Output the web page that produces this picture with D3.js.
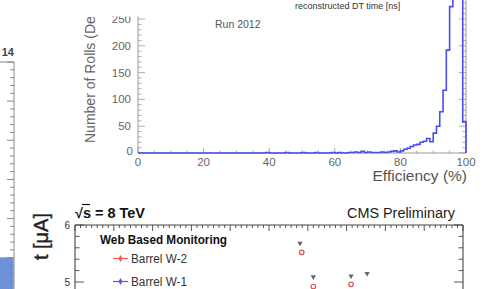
<!DOCTYPE html>
<html><head><meta charset="utf-8">
<script src="https://cdn.jsdelivr.net/npm/d3@7/dist/d3.min.js"></script>
<style>html,body{margin:0;padding:0;background:#fff;overflow:hidden}svg{display:block}text{font-family:"Liberation Sans",Arial,sans-serif}</style>
</head><body>
<script>
// ---- Efficiency histogram (bins of 1%, 0..100) ----
const effBinStarts = d3.range(0, 100);
const effCounts = [
  0,0,0,0,0,0,0,0,0,0,
  0,0,0,0,0,0,0,0,0,0,
  0,0,0,0,0,0,0,0,0,0,
  0,0,0,0,0,0,0,0,0,1,
  0,0,0,0,0,1,0,0,0,0,
  1,0,0,0,1,0,0,0,0,1,
  0,1,0,0,1,1,2,1,3,1,
  2,1,1,1,2,1,2,3,4,2,
  4,7,9,12,15,16,20,22,27,21,
  37,50,77,117,192,273,340,330,310,58
];
const effXTicks = [0,20,40,60,80,100];
const effYTicks = [0,50,100,150,200,250];

// ---- Bottom monitoring plot ----
const dayTicksMajor = [0,7,14,21,28,35,42,49,56,63,70];
const currentTicks = [5,6];
const redDays = [40.9, 43.0, 49.8];
const redValues = [5.52, 4.92, 4.96];
const triDays = [40.6, 43.0, 49.8, 52.7];
const triValues = [5.68, 5.09, 5.105, 5.15];
const legendLabels = ["Barrel W-2", "Barrel W-1"];
const legendColors = ["#ee5a5a", "#5a5ae6"];

const W = 500, H = 289;
const svg = d3.select("body").append("svg").attr("width", W).attr("height", H);

// ================= left strip =================
const yL = d3.scaleLinear([0, 29], [62, 289]);
svg.append("rect").attr("x", 0).attr("y", yL(24.95)).attr("width", 13.5).attr("height", H - yL(24.95)).attr("fill", "#6d90d6");
svg.append("line").attr("x1", 0).attr("x2", 14).attr("y1", 62).attr("y2", 62).attr("stroke", "#888").attr("stroke-width", 1);
svg.append("line").attr("x1", 14).attr("x2", 14).attr("y1", 62).attr("y2", H).attr("stroke", "#888").attr("stroke-width", 1);
svg.append("g").selectAll("line").data(d3.range(0, 29)).join("line")
  .attr("x1", 14).attr("x2", d => d % 5 === 0 ? 7 : 10)
  .attr("y1", d => yL(d)).attr("y2", d => yL(d)).attr("stroke", "#888");
svg.append("text").attr("x", 14).attr("y", 56).attr("text-anchor", "end")
  .attr("font-size", 11).attr("font-weight", "bold").attr("fill", "#444").text("14");
svg.append("text").attr("transform", "translate(48,213) rotate(-90)").attr("text-anchor", "end")
  .attr("font-size", 20).attr("fill", "#222").attr("stroke", "#222").attr("stroke-width", 0.4).text("t [μA]");

// ================= histogram =================
const xH = d3.scaleLinear([0, 100], [138, 466]);
const yH = d3.scaleLinear([0, 250], [153, 19]);
const gH = svg.append("g");
const axisCol = "#999", labCol = "#666";
gH.append("line").attr("x1", xH(0)).attr("x2", xH(0)).attr("y1", 0).attr("y2", yH(0)).attr("stroke", axisCol);
gH.append("line").attr("x1", xH(100)).attr("x2", xH(100)).attr("y1", 0).attr("y2", yH(0)).attr("stroke", axisCol);
gH.append("line").attr("x1", xH(0)).attr("x2", xH(100)).attr("y1", yH(0)).attr("y2", yH(0)).attr("stroke", axisCol);
const yMinor = d3.range(0, 300, 10);
gH.append("g").selectAll("line").data(yMinor).join("line")
  .attr("x1", xH(0)).attr("x2", d => xH(0) + (d % 50 === 0 ? 7 : 3.5))
  .attr("y1", d => yH(d)).attr("y2", d => yH(d)).attr("stroke", axisCol).attr("stroke-width", 0.8);
gH.append("g").selectAll("line").data(yMinor).join("line")
  .attr("x1", xH(100)).attr("x2", d => xH(100) - (d % 50 === 0 ? 7 : 3.5))
  .attr("y1", d => yH(d)).attr("y2", d => yH(d)).attr("stroke", axisCol).attr("stroke-width", 0.8);
gH.append("g").selectAll("line").data(d3.range(0, 101, 5)).join("line")
  .attr("x1", d => xH(d)).attr("x2", d => xH(d))
  .attr("y1", yH(0)).attr("y2", d => yH(0) - (d % 20 === 0 ? 5 : 2.5)).attr("stroke", axisCol).attr("stroke-width", 0.8);
gH.append("g").selectAll("text").data(effYTicks).join("text")
  .attr("x", d => d === 0 ? 133 : 131).attr("y", d => yH(d) + (d === 0 ? 2 : 4))
  .attr("text-anchor", "end").attr("font-size", 11.5).attr("fill", labCol).text(d => d);
gH.append("g").selectAll("text").data(effXTicks).join("text")
  .attr("x", d => xH(d)).attr("y", 165.5).attr("text-anchor", "middle")
  .attr("font-size", 11.5).attr("fill", labCol).text(d => d);
gH.append("text").attr("x", 467).attr("y", 181).attr("text-anchor", "end")
  .attr("font-size", 15.5).attr("fill", "#555").text("Efficiency (%)");
gH.append("text").attr("transform", "translate(95,143) rotate(-90)")
  .attr("font-size", 14).attr("fill", "#666").text("Number of Rolls (De");
const pts = [];
effBinStarts.forEach((b, i) => {
  pts.push([xH(b), yH(effCounts[i])]);
  pts.push([xH(b + 1), yH(effCounts[i])]);
});
pts.unshift([xH(0), yH(0)]);
pts.push([xH(100), yH(0)]);
gH.append("path").attr("d", d3.line()(pts)).attr("fill", "none")
  .attr("stroke", "#4b4bee").attr("stroke-width", 1.6);
svg.append("rect").attr("x", 60).attr("y", 0).attr("width", 388).attr("height", 16.5).attr("fill", "#fff");
svg.append("text").attr("x", 295).attr("y", 9).attr("font-size", 9).attr("fill", "#333").text("reconstructed DT time [ns]");
svg.append("text").attr("x", 215).attr("y", 27.5).attr("font-size", 10.5).attr("fill", "#555").text("Run 2012");

// ================= bottom monitoring plot =================
const xB = d3.scaleLinear([0, 70], [75, 463]);
const yB = d3.scaleLinear([5, 6], [282, 225]);
const gB = svg.append("g");
const bc = "#444";
gB.append("line").attr("x1", xB(0)).attr("x2", xB(70)).attr("y1", yB(6)).attr("y2", yB(6)).attr("stroke", bc).attr("stroke-width", 1.1);
gB.append("line").attr("x1", xB(0)).attr("x2", xB(0)).attr("y1", yB(6)).attr("y2", H).attr("stroke", bc).attr("stroke-width", 1.1);
gB.append("line").attr("x1", xB(70)).attr("x2", xB(70)).attr("y1", yB(6)).attr("y2", H).attr("stroke", bc).attr("stroke-width", 1.1);
gB.append("g").selectAll("line").data(d3.range(0, 71)).join("line")
  .attr("x1", d => xB(d)).attr("x2", d => xB(d))
  .attr("y1", yB(6)).attr("y2", d => yB(6) + (dayTicksMajor.includes(d) ? 6 : 3))
  .attr("stroke", bc).attr("stroke-width", 0.9);
const yBt = d3.range(4.6, 6.01, 0.2).map(v => +v.toFixed(1));
[0, 70].forEach(e => {
  const dir = e === 0 ? 1 : -1;
  gB.append("g").selectAll("line").data(yBt).join("line")
    .attr("x1", xB(e)).attr("x2", d => xB(e) + dir * ((d === 5 || d === 6) ? 9 : 4.5))
    .attr("y1", d => yB(d)).attr("y2", d => yB(d)).attr("stroke", bc).attr("stroke-width", 0.9);
});
gB.append("g").selectAll("text").data(currentTicks).join("text")
  .attr("x", 70).attr("y", d => yB(d) + 3.5).attr("text-anchor", "end")
  .attr("font-size", 10).attr("fill", "#333").text(d => d);
gB.append("text").attr("x", 75).attr("y", 217.5).attr("font-size", 14).attr("font-weight", "bold")
  .attr("fill", "#111").attr("textLength", 70).attr("lengthAdjust", "spacingAndGlyphs").text("√s = 8 TeV");
gB.append("line").attr("x1", 82).attr("x2", 90).attr("y1", 204.5).attr("y2", 204.5).attr("stroke", "#111").attr("stroke-width", 1.2);
gB.append("text").attr("x", 455).attr("y", 218).attr("text-anchor", "end").attr("font-size", 14)
  .attr("fill", "#222").attr("textLength", 108).attr("lengthAdjust", "spacingAndGlyphs").text("CMS Preliminary");
gB.append("text").attr("x", 100).attr("y", 243.5).attr("font-size", 12.5).attr("font-weight", "bold")
  .attr("fill", "#111").attr("textLength", 127).attr("lengthAdjust", "spacingAndGlyphs").text("Web Based Monitoring");
const legY = [258.5, 281.5];
legendLabels.forEach((lab, i) => {
  const g = gB.append("g");
  g.append("line").attr("x1", 113).attr("x2", 128).attr("y1", legY[i]).attr("y2", legY[i])
    .attr("stroke", legendColors[i]).attr("stroke-width", 1.2);
  g.append("path").attr("d", d3.symbol(d3.symbolDiamond, 14)())
    .attr("transform", `translate(120.5,${legY[i]})`).attr("fill", legendColors[i]);
  g.append("text").attr("x", 131).attr("y", legY[i] + 4.5).attr("font-size", 12.5)
    .attr("fill", "#333").attr("textLength", 56).attr("lengthAdjust", "spacingAndGlyphs").text(lab);
});
gB.append("g").selectAll("path").data(triDays).join("path")
  .attr("d", d3.symbol(d3.symbolTriangle, 12)())
  .attr("transform", (d, i) => `translate(${xB(d)},${yB(triValues[i])}) rotate(180)`)
  .attr("fill", "#666");
gB.append("g").selectAll("circle").data(redDays).join("circle")
  .attr("cx", d => xB(d)).attr("cy", (d, i) => yB(redValues[i])).attr("r", 2.3)
  .attr("fill", "none").attr("stroke", "#e05050").attr("stroke-width", 1.2);
</script>
</body></html>
